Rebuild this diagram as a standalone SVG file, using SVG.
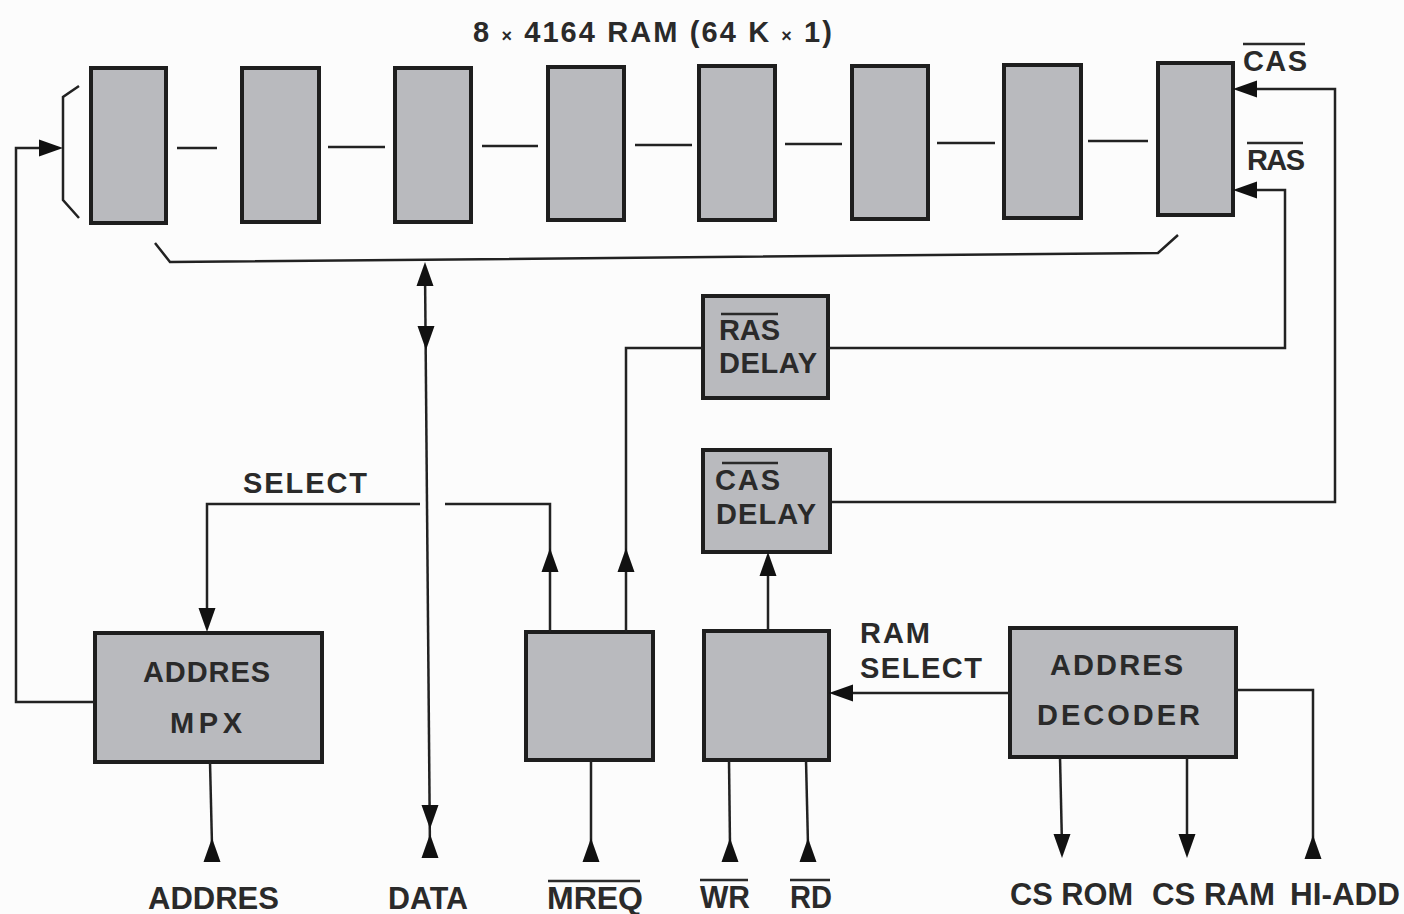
<svg xmlns="http://www.w3.org/2000/svg" xmlns:xlink="http://www.w3.org/1999/xlink" width="1404" height="914" viewBox="0 0 1404 914">
<style>
.bg{fill:#fcfcfc}
.box{fill:#b9babe;stroke:#1e1e1e;stroke-width:4}
.ln{fill:none;stroke:#222;stroke-width:2.5}
.ah{fill:#111}
.t{font-family:"Liberation Sans",Arial,sans-serif;font-weight:bold;font-size:29px;fill:#2a2a2a}
.b{font-size:31px}
.ov{stroke:#2a2a2a;stroke-width:2.5}
</style>
<defs>
<path id="ah" d="M0,0 L-24,-8.5 L-24,8.5 Z"/>
</defs>
<rect class="bg" x="0" y="0" width="1404" height="914"/>

<text class="t" x="473" y="42" font-size="30" textLength="359" lengthAdjust="spacing">8 <tspan font-size="18">×</tspan> 4164 RAM  (64 K <tspan font-size="18">×</tspan> 1)</text>

<g id="ram1"><rect class="box" x="91" y="68" width="75" height="155"/></g>
<g id="ram2"><rect class="box" x="242" y="68" width="77" height="154"/></g>
<g id="ram3"><rect class="box" x="395" y="68" width="76" height="154"/></g>
<g id="ram4"><rect class="box" x="548" y="67" width="76" height="153"/></g>
<g id="ram5"><rect class="box" x="699" y="66" width="76" height="154"/></g>
<g id="ram6"><rect class="box" x="852" y="66" width="76" height="153"/></g>
<g id="ram7"><rect class="box" x="1004" y="65" width="77" height="153"/></g>
<g id="ram8"><rect class="box" x="1158" y="63" width="75" height="152"/></g>

<g id="cas-label">
<text class="t" x="1243" y="71" textLength="64" lengthAdjust="spacing">CAS</text>
<line class="ov" x1="1243" y1="44" x2="1305" y2="44"/>
</g>
<g id="ras-label">
<text class="t" x="1247" y="170" textLength="58" lengthAdjust="spacing">RAS</text>
<line class="ov" x1="1247" y1="143" x2="1303" y2="143"/>
</g>

<g id="ras-delay">
<rect class="box" x="703" y="296" width="125" height="102"/>
<text class="t" x="719" y="340" textLength="61" lengthAdjust="spacing">RAS</text>
<line class="ov" x1="721" y1="314" x2="778" y2="314"/>
<text class="t" x="719" y="373" textLength="98" lengthAdjust="spacing">DELAY</text>
</g>
<g id="cas-delay">
<rect class="box" x="703" y="450" width="127" height="102"/>
<text class="t" x="715" y="490" textLength="65" lengthAdjust="spacing">CAS</text>
<line class="ov" x1="722" y1="463" x2="778" y2="463"/>
<text class="t" x="716" y="524" textLength="100" lengthAdjust="spacing">DELAY</text>
</g>

<g id="addres-mpx">
<rect class="box" x="95" y="633" width="227" height="129"/>
<text class="t" x="143" y="682" textLength="127" lengthAdjust="spacing">ADDRES</text>
<text class="t" x="170" y="733" textLength="72" lengthAdjust="spacing">MPX</text>
</g>
<g id="mreq-gate"><rect class="box" x="526" y="632" width="127" height="128"/></g>
<g id="rw-gate"><rect class="box" x="704" y="631" width="125" height="129"/></g>
<g id="addres-decoder">
<rect class="box" x="1010" y="628" width="226" height="129"/>
<text class="t" x="1050" y="675" textLength="133" lengthAdjust="spacing">ADDRES</text>
<text class="t" x="1037" y="725" textLength="163" lengthAdjust="spacing">DECODER</text>
</g>

<g id="labels">
<text class="t" x="243" y="493" textLength="124" lengthAdjust="spacing">SELECT</text>
<text class="t" x="860" y="643" textLength="70" lengthAdjust="spacing">RAM</text>
<text class="t" x="860" y="678" textLength="122" lengthAdjust="spacing">SELECT</text>
<text class="t b" x="148" y="909" textLength="131" lengthAdjust="spacingAndGlyphs">ADDRES</text>
<text class="t b" x="388" y="909" textLength="80" lengthAdjust="spacingAndGlyphs">DATA</text>
<text class="t b" x="547" y="909" textLength="96" lengthAdjust="spacingAndGlyphs">MREQ</text>
<line class="ov" x1="548" y1="881" x2="640" y2="881"/>
<text class="t b" x="700" y="908" textLength="50" lengthAdjust="spacingAndGlyphs">WR</text>
<line class="ov" x1="700" y1="880" x2="748" y2="880"/>
<text class="t b" x="790" y="908" textLength="42" lengthAdjust="spacingAndGlyphs">RD</text>
<line class="ov" x1="790" y1="880" x2="830" y2="880"/>
<text class="t b" x="1010" y="905" textLength="123" lengthAdjust="spacingAndGlyphs">CS ROM</text>
<text class="t b" x="1152" y="905" textLength="123" lengthAdjust="spacingAndGlyphs">CS RAM</text>
<text class="t b" x="1290" y="905" textLength="110" lengthAdjust="spacingAndGlyphs">HI-ADD</text>
</g>

<g id="connectors">
<line class="ln" x1="177" y1="148" x2="217" y2="148"/>
<line class="ln" x1="328" y1="147" x2="385" y2="147"/>
<line class="ln" x1="482" y1="146" x2="538" y2="146"/>
<line class="ln" x1="635" y1="145" x2="692" y2="145"/>
<line class="ln" x1="785" y1="144" x2="842" y2="144"/>
<line class="ln" x1="937" y1="143" x2="995" y2="143"/>
<line class="ln" x1="1088" y1="141" x2="1148" y2="141"/>
<polyline class="ln" points="155,243 170,262 1158,253 1178,235"/>
<polyline class="ln" points="79,86 63,97 63,200 79,218"/>
<polyline class="ln" points="95,702 16,702 16,148 45,148"/>
<polyline class="ln" points="1250,89 1335,89 1335,502 830,502"/>
<polyline class="ln" points="1250,190 1285,190 1285,348 828,348"/>
<polyline class="ln" points="703,348 626,348 626,632"/>
<polyline class="ln" points="550,632 550,504 445,504"/>
<polyline class="ln" points="420,504 207,504 207,615"/>
<line class="ln" x1="425" y1="270" x2="430" y2="855"/>
<line class="ln" x1="210" y1="762" x2="212" y2="845"/>
<line class="ln" x1="591" y1="760" x2="591" y2="845"/>
<line class="ln" x1="768" y1="631" x2="768" y2="565"/>
<line class="ln" x1="729" y1="760" x2="730" y2="845"/>
<line class="ln" x1="806" y1="760" x2="808" y2="845"/>
<line class="ln" x1="1010" y1="693" x2="845" y2="693"/>
<line class="ln" x1="1060" y1="757" x2="1062" y2="845"/>
<line class="ln" x1="1187" y1="757" x2="1187" y2="845"/>
<polyline class="ln" points="1236,690 1313,690 1313,845"/>
<use class="ah" xlink:href="#ah" transform="translate(63,148)"/>
<use class="ah" xlink:href="#ah" transform="translate(1233,89) rotate(180)"/>
<use class="ah" xlink:href="#ah" transform="translate(1233,190) rotate(180)"/>
<use class="ah" xlink:href="#ah" transform="translate(425,262) rotate(-90)"/>
<use class="ah" xlink:href="#ah" transform="translate(426,350) rotate(90)"/>
<use class="ah" xlink:href="#ah" transform="translate(430,829) rotate(90)"/>
<use class="ah" xlink:href="#ah" transform="translate(430,834) rotate(-90)"/>
<use class="ah" xlink:href="#ah" transform="translate(207,632) rotate(90)"/>
<use class="ah" xlink:href="#ah" transform="translate(550,548) rotate(-90)"/>
<use class="ah" xlink:href="#ah" transform="translate(626,548) rotate(-90)"/>
<use class="ah" xlink:href="#ah" transform="translate(768,552) rotate(-90)"/>
<use class="ah" xlink:href="#ah" transform="translate(829,693) rotate(180)"/>
<use class="ah" xlink:href="#ah" transform="translate(212,838) rotate(-90)"/>
<use class="ah" xlink:href="#ah" transform="translate(591,838) rotate(-90)"/>
<use class="ah" xlink:href="#ah" transform="translate(730,838) rotate(-90)"/>
<use class="ah" xlink:href="#ah" transform="translate(808,838) rotate(-90)"/>
<use class="ah" xlink:href="#ah" transform="translate(1313,835) rotate(-90)"/>
<use class="ah" xlink:href="#ah" transform="translate(1062,858) rotate(90)"/>
<use class="ah" xlink:href="#ah" transform="translate(1187,858) rotate(90)"/>
</g>
</svg>
